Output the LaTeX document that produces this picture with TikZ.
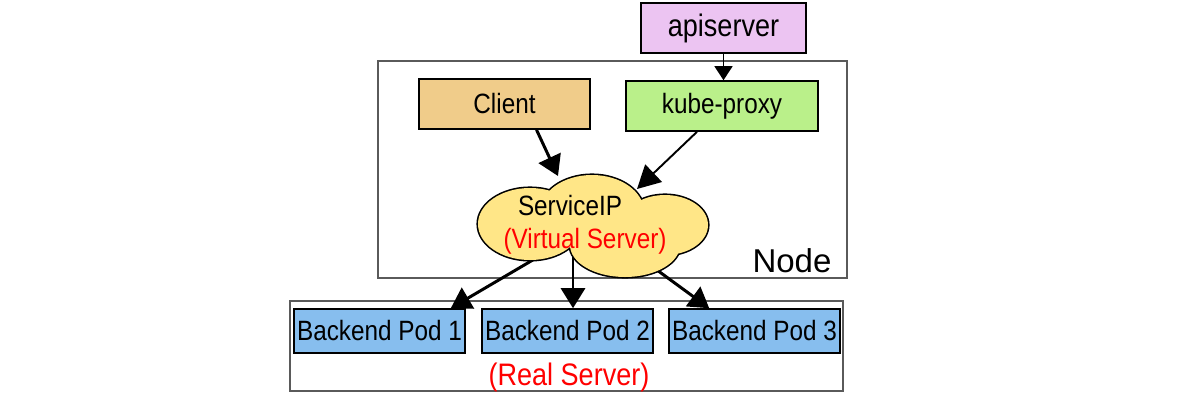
\documentclass[tikz,border=0pt]{standalone}
\usepackage{fontspec}
\setmainfont{Liberation Sans}
\newfontfamily\narrowfont{Liberation Sans}[FakeStretch=0.87]
\usetikzlibrary{arrows.meta}

\definecolor{apicol}{RGB}{236,196,242}
\definecolor{clientcol}{RGB}{240,204,138}
\definecolor{proxycol}{RGB}{186,240,138}
\definecolor{cloudcol}{RGB}{255,230,135}
\definecolor{podcol}{RGB}{135,190,238}
\definecolor{framecol}{RGB}{90,90,90}

\begin{document}
\begin{tikzpicture}[x=0.02cm, y=-0.02cm,
    box/.style={draw, line width=0.9pt, minimum height=1cm, inner sep=0pt,
      font=\narrowfont\fontsize{15.9}{18}\selectfont},
    pod/.style={box, fill=podcol, minimum width=3.42cm, minimum height=0.88cm},
    bigarrow/.style={line width=1.7pt, -{Triangle[length=0.4cm, width=0.48cm]}},
    thinarrow/.style={line width=1.1pt, -{Triangle[length=0.46cm, width=0.48cm]}},
    label/.style={anchor=base, font=\narrowfont\fontsize{15.9}{18}\selectfont}]
    \useasboundingbox (0,0) rectangle (1200,400);

    % node frame
    \draw[framecol, line width=0.6pt] (378,61) rectangle (847,278);
    \node[anchor=base, font=\fontsize{18.8}{22}\selectfont] (nodelbl) at (792,272) {Node};

    % real server frame
    \draw[framecol, line width=0.6pt] (290,301) rectangle (843,391);
    \node[label, red, font=\narrowfont\fontsize{17.7}{20}\selectfont] (reallbl) at (569,385) {(Real Server)};

    % apiserver and the boxes inside the node
    \node[box, fill=apicol, minimum width=3.3cm, font=\narrowfont\fontsize{17.7}{20}\selectfont] (api) at (723.5,28) {apiserver};
    \node[box, fill=clientcol, minimum width=3.42cm] (client) at (504.5,104) {Client};
    \node[box, fill=proxycol, minimum width=3.84cm] (proxy) at (722,106) {kube-proxy};

    % backend pods
    \node[pod] (pod1) at (379.5,331) {Backend Pod 1};
    \node[pod] (pod2) at (567.5,331) {Backend Pod 2};
    \node[pod] (pod3) at (754.5,331) {Backend Pod 3};
    \coordinate (tip1) at ([xshift=-0.3cm]pod1.north east);
    \coordinate (tip2) at ([xshift=0.11cm]pod2.north);
    \coordinate (tip3) at ([xshift=0.82cm]pod3.north west);

    % service ip cloud
    \coordinate (svc) at (594,224);
    \draw[bigarrow] (svc) -- (tip1);
    \draw[bigarrow] (svc -| tip2) -- (tip2);
    \draw[bigarrow] (svc) -- (tip3);
    \foreach \cx/\cy/\rx/\ry in {530/224/52/36, 592/212/52/37, 665/225/43/30, 625/245/55/32}
      \draw[line width=1.8pt] (\cx,\cy) ellipse [x radius=\rx, y radius=\ry];
    \foreach \cx/\cy/\rx/\ry in {530/224/52/36, 592/212/52/37, 665/225/43/30, 625/245/55/32}
      \fill[cloudcol] (\cx,\cy) ellipse [x radius=\rx, y radius=\ry];
    \node[label] (svcname) at (570,215) {ServiceIP};
    \node[label, red] (svcvirt) at (585,248) {(Virtual Server)};
    \coordinate (svctop) at (558,176);
    \coordinate (svcright) at (637,189);

    % arrows
    \draw[line width=0.8pt, -{Triangle[length=0.28cm, width=0.36cm]}] (api) -- (api |- proxy.north);
    \draw[bigarrow] ([xshift=0.64cm]client.south) -- (svctop);
    \draw[thinarrow] ([xshift=-0.5cm]proxy.south) -- (svcright);
\end{tikzpicture}
\end{document}
